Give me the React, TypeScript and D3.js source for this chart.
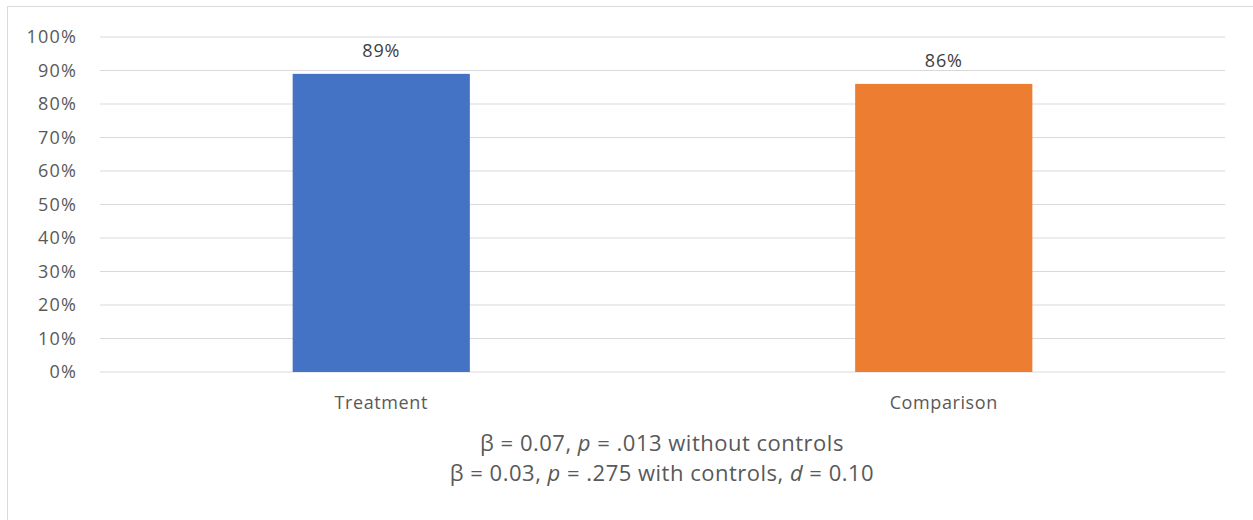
import React from "react";
import * as d3 from "d3";

const categories = ["Treatment", "Comparison"];
const values = [0.89, 0.86];
const barColors = ["#4472C4", "#ED7D31"];
const yTicks = [0, 0.1, 0.2, 0.3, 0.4, 0.5, 0.6, 0.7, 0.8, 0.9, 1.0];
const noteLines = [
  [
    { t: "β = 0.07, ", i: false },
    { t: "p", i: true },
    { t: " = .013 without controls", i: false },
  ],
  [
    { t: "β = 0.03, ", i: false },
    { t: "p", i: true },
    { t: " = .275 with controls, ", i: false },
    { t: "d", i: true },
    { t: " = 0.10", i: false },
  ],
];

const W = 1253;
const H = 520;
const FONT = "'Open Sans', sans-serif";
const TEXT = "#595959";

export default function App() {
  const x = d3.scaleBand<string>().domain(categories).range([100, 1225]).padding(0);
  const barW = x.bandwidth() * 0.315;
  const y = d3.scaleLinear().domain([0, 1]).range([372, 37]);
  const fmt = d3.format(".0%");

  return (
    <svg width={W} height={H} style={{ position: "absolute", left: 0, top: 0 }}>
      <rect x={0} y={0} width={W} height={H} fill="#fff" />
      <rect x={7.5} y={6.5} width={W + 10} height={H + 10} fill="none" stroke="#d9d9d9" strokeWidth={1} />
      {yTicks.map((t) => (
        <g key={t}>
          <line x1={100} x2={1225} y1={y(t)} y2={y(t)} stroke="#d9d9d9" strokeWidth={1} />
          <text x={77} y={y(t)} dy="0.36em" textAnchor="end" fontFamily={FONT} fontSize={18} letterSpacing={1.2} fill={TEXT}>
            {fmt(t)}
          </text>
        </g>
      ))}
      {categories.map((c, i) => {
        const cx = x(c)! + x.bandwidth() / 2;
        return (
          <g key={c}>
            <rect x={cx - barW / 2} y={y(values[i])} width={barW} height={y(0) - y(values[i])} fill={barColors[i]} />
            <text x={cx} y={y(values[i]) - 23} dy="0.36em" textAnchor="middle" fontFamily={FONT} fontSize={18} letterSpacing={0.8} fill="#404040">
              {fmt(values[i])}
            </text>
            <text x={cx} y={403} dy="0.36em" textAnchor="middle" fontFamily={FONT} fontSize={18} letterSpacing={0.6} fill={TEXT}>
              {c}
            </text>
          </g>
        );
      })}
      {noteLines.map((line, li) => (
        <text key={li} x={662} y={443 + li * 30} dy="0.36em" textAnchor="middle" fontFamily={FONT} fontSize={22} letterSpacing={0.5} fill={TEXT}>
          {line.map((s, si) => (
            <tspan key={si} fontStyle={s.i ? "italic" : "normal"}>{s.t}</tspan>
          ))}
        </text>
      ))}
    </svg>
  );
}
